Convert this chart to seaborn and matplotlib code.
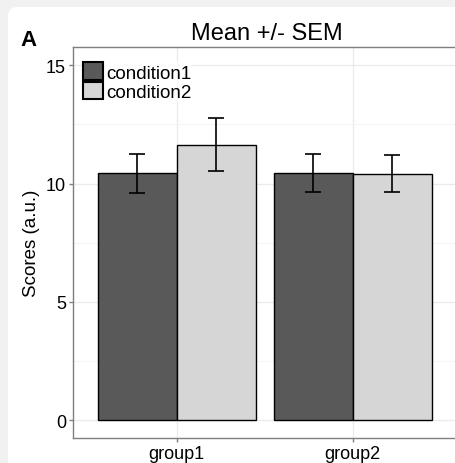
import pandas as pd
import matplotlib.pyplot as plt
import seaborn as sns
from matplotlib.patches import FancyBboxPatch
from matplotlib.ticker import MultipleLocator

groups = ['group1', 'group1', 'group2', 'group2']
conditions = ['condition1', 'condition2', 'condition1', 'condition2']
means = [10.43, 11.65, 10.44, 10.42]
sems = [0.81, 1.12, 0.80, 0.77]

df = pd.DataFrame({'group': groups, 'condition': conditions, 'score': means, 'sem': sems})

sns.set_theme(style='white')
plt.rcParams['font.family'] = ['Liberation Sans', 'DejaVu Sans']

fig = plt.figure(figsize=(4.55, 4.64), dpi=100, facecolor='#f1f1f1')
panel = FancyBboxPatch((8 / 455, -0.2), 1.2, 1.2 - 8 / 464,
                       boxstyle='round,pad=0,rounding_size=0.02',
                       transform=fig.transFigure, facecolor='white',
                       edgecolor='none', zorder=-5)
fig.patches.append(panel)

ax = fig.add_axes([73 / 455, 1 - 439 / 464, (460 - 73) / 455, (439 - 48) / 464])
ax.set_facecolor('white')

palette = {'condition1': '#595959', 'condition2': '#d6d6d6'}
sns.barplot(data=df, x='group', y='score', hue='condition', palette=palette,
            width=0.9, gap=0, errorbar=None, edgecolor='black', linewidth=1,
            saturation=1, ax=ax, zorder=3)

# error bars on top of each bar
for cont, cond in zip(ax.containers, ['condition1', 'condition2']):
    sub = df[df['condition'] == cond]
    xs = [b.get_x() + b.get_width() / 2 for b in cont]
    ax.errorbar(xs, sub['score'], yerr=sub['sem'], fmt='none', ecolor='black',
                elinewidth=1.2, capsize=6, capthick=1.2, zorder=4)

ax.set_xlim(-0.59, 1.61)
ax.set_ylim(-0.75, 15.77)
ax.yaxis.set_major_locator(MultipleLocator(5))
ax.yaxis.set_minor_locator(MultipleLocator(2.5))
ax.grid(True, which='major', color='#ebebeb', linewidth=1, zorder=0)
ax.grid(True, which='minor', axis='y', color='#f5f5f5', linewidth=0.8, zorder=0)
ax.set_axisbelow(True)
for s in ax.spines.values():
    s.set_color('#7f7f7f')
    s.set_linewidth(1)
ax.tick_params(axis='both', which='major', direction='out', length=3, width=1,
               color='#7f7f7f', labelsize=13, labelcolor='black', pad=2,
               bottom=True, left=True)
ax.tick_params(which='minor', length=0)

ax.set_xlabel('')
ax.set_ylabel('Scores (a.u.)', fontsize=13.5, color='black', labelpad=4)
ax.set_title('Mean +/- SEM', fontsize=17, color='black', pad=6)

leg = ax.legend(loc='upper left', bbox_to_anchor=(0.024, 0.963), frameon=True,
                fontsize=13.5, handlelength=1.07, handleheight=1.07, labelspacing=0,
                handletextpad=0.15, borderpad=0.05, borderaxespad=0, title=None)
leg.get_frame().set_facecolor('white')
leg.get_frame().set_edgecolor('none')
for h in leg.legend_handles:
    h.set_edgecolor('black')
    h.set_linewidth(1.5)
for t in leg.get_texts():
    t.set_color('black')

fig.text(20 / 455, 1 - 41 / 464, 'A', fontsize=16, fontweight='bold', color='black',
         va='center', ha='left')

fig.savefig('out.png', dpi=100, facecolor=fig.get_facecolor())
